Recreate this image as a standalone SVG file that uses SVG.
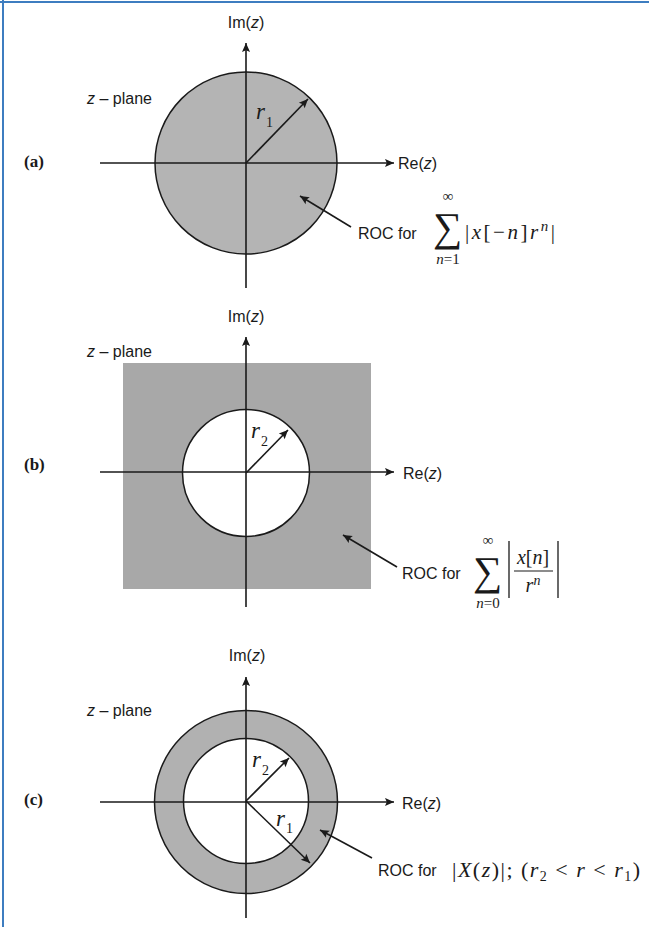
<svg xmlns="http://www.w3.org/2000/svg" width="649" height="927" viewBox="0 0 649 927">
<defs>
<marker id="ah" viewBox="0 0 10 10" refX="10" refY="5" markerWidth="10" markerHeight="9" markerUnits="userSpaceOnUse" orient="auto">
<path d="M0,0.5 L10,5 L0,9.5 L2,5 Z" fill="#1a1a1a"/>
</marker>
<style>
.ax{stroke:#1a1a1a;stroke-width:1.6;fill:none}
.ar{stroke:#1a1a1a;stroke-width:1.6;fill:none;marker-end:url(#ah)}
.ci{stroke:#1a1a1a;stroke-width:1.5}
.lb{font-family:"Liberation Sans",Arial,sans-serif;font-size:16px;fill:#1a1a1a}
.mt{font-family:"Liberation Serif","Times New Roman",serif;font-size:20px;fill:#1a1a1a}
.pl{font-family:"Liberation Serif","Times New Roman",serif;font-size:17px;font-weight:bold;fill:#1a1a1a}
.it{font-style:italic}
.sg{font-size:41px}
.sm{font-size:15px}
.rr{font-size:23px}
.sb{font-size:14px}
.fm{font-size:21px}
.fc{font-size:22px}
</style>
</defs>
<rect x="0" y="0" width="649" height="927" fill="#ffffff"/>
<line x1="0" y1="2" x2="649" y2="2" stroke="#3d7dc0" stroke-width="2"/>
<line x1="3" y1="0" x2="3" y2="927" stroke="#3d7dc0" stroke-width="2"/>

<g id="panel-a">
<circle class="ci" cx="246" cy="163" r="91" fill="#b4b4b4"/>
<text class="pl" x="24" y="167">(a)</text>
<text class="lb" x="246" y="28" text-anchor="middle">Im(<tspan class="it">z</tspan>)</text>
<text class="lb" x="398" y="169">Re(<tspan class="it">z</tspan>)</text>
<text class="lb" x="87" y="104"><tspan class="it">z</tspan> – plane</text>
<text class="mt it rr" x="256" y="119">r</text>
<text class="mt sb" x="266" y="127">1</text>
<text class="lb" x="358" y="239">ROC for</text>
<text class="mt sg" x="433" y="241">∑</text>
<text class="mt sm" x="448" y="201" text-anchor="middle">∞</text>
<text class="mt sm" x="448" y="264" text-anchor="middle"><tspan class="it">n</tspan>=1</text>
<text class="mt fm" x="465" y="239" textLength="90" lengthAdjust="spacing">|<tspan class="it">x</tspan>[−<tspan class="it">n</tspan>]<tspan class="it">r</tspan><tspan class="it" font-size="15" dy="-8">n</tspan><tspan dy="8">|</tspan></text>
</g>

<g id="panel-b">
<rect x="123" y="363" width="248" height="226" fill="#a8a8a8"/>
<circle class="ci" cx="246" cy="473" r="63.5" fill="#ffffff"/>
<text class="pl" x="24" y="470">(b)</text>
<text class="lb" x="246" y="322" text-anchor="middle">Im(<tspan class="it">z</tspan>)</text>
<text class="lb" x="403" y="479">Re(<tspan class="it">z</tspan>)</text>
<text class="lb" x="87" y="357"><tspan class="it">z</tspan> – plane</text>
<text class="mt it rr" x="251" y="438">r</text>
<text class="mt sb" x="261" y="446">2</text>
<text class="lb" x="402" y="579">ROC for</text>
<text class="mt sg" x="473" y="585">∑</text>
<text class="mt sm" x="488" y="545" text-anchor="middle">∞</text>
<text class="mt sm" x="488" y="608" text-anchor="middle"><tspan class="it">n</tspan>=0</text>
<line x1="509" y1="541" x2="509" y2="598" stroke="#1a1a1a" stroke-width="1.3"/>
<line x1="558" y1="541" x2="558" y2="598" stroke="#1a1a1a" stroke-width="1.3"/>
<line x1="514" y1="571" x2="553" y2="571" stroke="#1a1a1a" stroke-width="1.2"/>
<text class="mt" x="533" y="564" text-anchor="middle"><tspan class="it">x</tspan>[<tspan class="it">n</tspan>]</text>
<text class="mt" x="533" y="592" text-anchor="middle"><tspan class="it">r</tspan><tspan class="it" font-size="14" dy="-7">n</tspan></text>
</g>

<g id="panel-c">
<circle class="ci" cx="246" cy="802" r="91.5" fill="#b1b1b1"/>
<circle class="ci" cx="246" cy="801" r="62.5" fill="#ffffff"/>
<text class="pl" x="24" y="805">(c)</text>
<text class="lb" x="247" y="661" text-anchor="middle">Im(<tspan class="it">z</tspan>)</text>
<text class="lb" x="402" y="809">Re(<tspan class="it">z</tspan>)</text>
<text class="lb" x="87" y="716"><tspan class="it">z</tspan> – plane</text>
<text class="mt it rr" x="252" y="767">r</text>
<text class="mt sb" x="262" y="775">2</text>
<text class="mt it rr" x="276" y="826">r</text>
<text class="mt sb" x="286" y="833">1</text>
<text class="lb" x="378" y="876">ROC for</text>
<text class="mt fc" x="452" y="877" textLength="188" lengthAdjust="spacing">|<tspan class="it">X</tspan>(<tspan class="it">z</tspan>)|; (<tspan class="it">r</tspan><tspan font-size="14" dy="4">2</tspan><tspan dy="-4"> &lt; </tspan><tspan class="it">r</tspan> &lt; <tspan class="it">r</tspan><tspan font-size="14" dy="4">1</tspan><tspan dy="-4">)</tspan></text>
</g>

<g id="connectors">
<line class="ar" x1="246" y1="288" x2="246" y2="43"/>
<line class="ar" x1="100" y1="163" x2="394" y2="163"/>
<line class="ar" x1="246" y1="163" x2="308" y2="99"/>
<line class="ar" x1="351" y1="227" x2="300" y2="196"/>

<line class="ar" x1="246" y1="607" x2="246" y2="337"/>
<line class="ar" x1="100" y1="472" x2="394" y2="472"/>
<line class="ar" x1="246" y1="473" x2="288" y2="430"/>
<line class="ar" x1="397" y1="567" x2="343" y2="535"/>

<line class="ar" x1="246" y1="918" x2="246" y2="677"/>
<line class="ar" x1="100" y1="802" x2="394" y2="802"/>
<line class="ar" x1="246" y1="801" x2="289" y2="758"/>
<line class="ar" x1="246" y1="801" x2="310" y2="863"/>
<line class="ar" x1="372" y1="858" x2="320" y2="830"/>
</g>
</svg>
